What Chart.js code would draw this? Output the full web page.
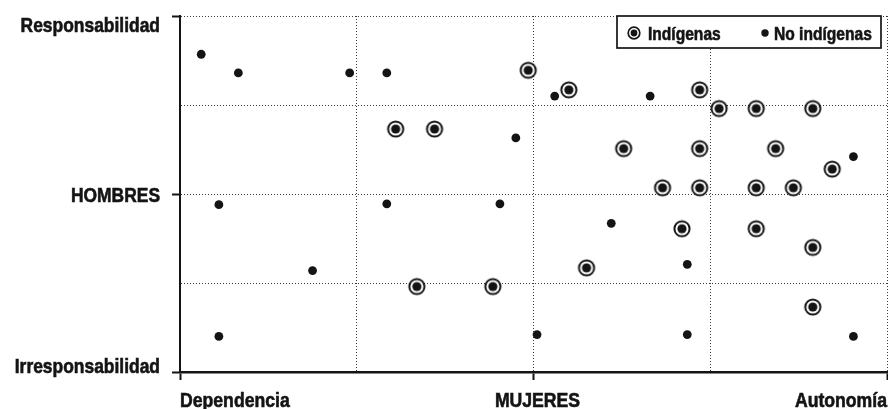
<!DOCTYPE html>
<html>
<head>
<meta charset="utf-8">
<title>Hombres / Mujeres</title>
<script src="https://cdn.jsdelivr.net/npm/chart.js@4.4.0/dist/chart.umd.min.js"></script>
<style>
  html, body { margin: 0; padding: 0; background: #fff; }
</style>
</head>
<body>
<canvas id="generoChart" width="888" height="409"></canvas>
<script>
// Indigenous respondents (circled dot)
var indigenasX = [1.22, 1.44, 1.97, 2.20, 2.94, 3.05, 3.26, 3.58, 2.51, 2.94, 3.37, 3.69,
                  2.73, 2.94, 3.26, 3.47, 2.84, 3.26, 3.58, 2.30, 1.77, 1.34, 3.58];
var indigenasY = [2.73, 2.73, 3.39, 3.17, 3.17, 2.96, 2.96, 2.96, 2.51, 2.51, 2.51, 2.28,
                  2.07, 2.07, 2.07, 2.07, 1.61, 1.61, 1.40, 1.17, 0.96, 0.96, 0.73];

// Non-indigenous respondents (plain dot)
var noIndigenasX = [0.12, 0.33, 0.96, 1.17, 2.12, 2.66, 1.90, 3.81, 0.22, 1.17, 1.81, 2.44,
                    2.87, 0.75, 2.02, 2.87, 3.81, 0.22];
var noIndigenasY = [3.57, 3.36, 3.36, 3.36, 3.10, 3.10, 2.63, 2.42, 1.88, 1.89, 1.89, 1.67,
                    1.21, 1.14, 0.42, 0.42, 0.40, 0.40];

// Axis labels (at values 0, 2, 4)
var xTickLabels = ['Dependencia', 'MUJERES', 'Autonomía'];
var yTickLabels = ['Irresponsabilidad', 'HOMBRES', 'Responsabilidad'];
var legendLabels = ['Indígenas', 'No indígenas'];

var inkColor = '#141414';
var gridColor = '#3a3a3a';
var fontFamily = "'Liberation Sans', Arial, sans-serif";

function toPoints(xs, ys) {
  var pts = [];
  for (var i = 0; i < xs.length; i++) {
    pts.push({ x: xs[i], y: ys[i] });
  }
  return pts;
}

// circled dot marker drawn once on an offscreen canvas
function makeRingMarker(size, ringR, ringW, dotR) {
  var c = document.createElement('canvas');
  c.width = size;
  c.height = size;
  var g = c.getContext('2d');
  var m = size / 2;
  g.fillStyle = '#fff';
  g.beginPath();
  g.arc(m, m, ringR, 0, Math.PI * 2);
  g.fill();
  g.strokeStyle = inkColor;
  g.lineWidth = ringW;
  g.beginPath();
  g.arc(m, m, ringR, 0, Math.PI * 2);
  g.stroke();
  g.fillStyle = inkColor;
  g.beginPath();
  g.arc(m, m, dotR, 0, Math.PI * 2);
  g.fill();
  return c;
}

var ringMarker = makeRingMarker(20, 7.6, 2, 4.6);
var legendRing = makeRingMarker(16, 5.8, 1.7, 3.4);

function evenTickColor(ctx) {
  return ctx.tick && ctx.tick.value % 2 === 0 ? inkColor : 'rgba(0,0,0,0)';
}

function allTicks(scale) {
  scale.ticks = [0, 1, 2, 3, 4].map(function (v) { return { value: v }; });
}

// squeezed + lightly stroked text to mimic a heavy condensed face
function narrowText(ctx, text, x, y, align, squeeze) {
  ctx.save();
  ctx.translate(x, y);
  ctx.scale(squeeze, 1);
  ctx.textAlign = align;
  ctx.textBaseline = 'alphabetic';
  ctx.lineWidth = 0.6;
  ctx.strokeStyle = inkColor;
  ctx.fillText(text, 0, 0);
  ctx.strokeText(text, 0, 0);
  ctx.restore();
}

// axis labels and boxed legend
var labelsPlugin = {
  id: 'labelsPlugin',
  afterDraw: function (chart) {
    var ctx = chart.ctx;
    var xScale = chart.scales.x;
    var yScale = chart.scales.y;
    var area = chart.chartArea;

    ctx.save();
    ctx.fillStyle = inkColor;
    ctx.font = 'bold 20.5px ' + fontFamily;

    // y labels: bottom one sits on its tick, top one hangs below it
    var baseShift = [1, 8, 16];
    for (var i = 0; i < yTickLabels.length; i++) {
      var py = yScale.getPixelForValue(i * 2);
      narrowText(ctx, yTickLabels[i], area.left - 20, py + baseShift[i], 'right', 0.85);
    }

    // x labels: first left aligned, middle centred, last right aligned
    var xAlign = ['left', 'center', 'right'];
    var xShift = [0, 4, 0];
    for (var j = 0; j < xTickLabels.length; j++) {
      var px = xScale.getPixelForValue(j * 2);
      narrowText(ctx, xTickLabels[j], px + xShift[j], area.bottom + 35, xAlign[j], 0.86);
    }

    // legend box
    var bw = 264, bh = 32;
    var bx = area.right - 6 - bw;
    var by = area.top;
    ctx.fillStyle = '#fff';
    ctx.fillRect(bx, by, bw, bh);
    ctx.strokeStyle = inkColor;
    ctx.lineWidth = 1.7;
    ctx.strokeRect(bx, by, bw, bh);

    var cy = by + 17;
    ctx.drawImage(legendRing, bx + 17 - 8, cy - 8);
    ctx.fillStyle = inkColor;
    ctx.beginPath();
    ctx.arc(bx + 148, cy, 3.7, 0, Math.PI * 2);
    ctx.fill();

    ctx.font = 'bold 19px ' + fontFamily;
    narrowText(ctx, legendLabels[0], bx + 31, by + 23.5, 'left', 0.82);
    narrowText(ctx, legendLabels[1], bx + 157, by + 23.5, 'left', 0.82);
    ctx.restore();
  }
};

var ctx = document.getElementById('generoChart').getContext('2d');
var generoChart = new Chart(ctx, {
  type: 'scatter',
  data: {
    datasets: [{
      label: legendLabels[1],
      data: toPoints(noIndigenasX, noIndigenasY),
      pointStyle: 'circle',
      pointRadius: 4.4,
      backgroundColor: inkColor,
      borderWidth: 0
    }, {
      label: legendLabels[0],
      data: toPoints(indigenasX, indigenasY),
      pointStyle: ringMarker,
      pointRadius: 9
    }]
  },
  options: {
    responsive: false,
    animation: false,
    devicePixelRatio: 1,
    layout: {
      autoPadding: false,
      padding: { top: 16, right: 1, bottom: 0, left: 0 }
    },
    plugins: {
      legend: { display: false },
      tooltip: { enabled: false }
    },
    scales: {
      x: {
        type: 'linear',
        min: 0,
        max: 4,
        afterBuildTicks: allTicks,
        afterFit: function (scale) { scale.height = 37; },
        ticks: { display: false },
        grid: {
          color: gridColor,
          lineWidth: 1,
          tickLength: 8,
          tickWidth: 2,
          tickColor: evenTickColor
        },
        border: { color: inkColor, width: 2.5, dash: [1, 2] }
      },
      y: {
        type: 'linear',
        min: 0,
        max: 4,
        afterBuildTicks: allTicks,
        afterFit: function (scale) { scale.width = 180; },
        ticks: { display: false },
        grid: {
          color: gridColor,
          lineWidth: 1,
          tickLength: 8,
          tickWidth: 2,
          tickColor: evenTickColor
        },
        border: { color: inkColor, width: 2, dash: [1, 2] }
      }
    }
  },
  plugins: [labelsPlugin]
});
</script>
</body>
</html>
